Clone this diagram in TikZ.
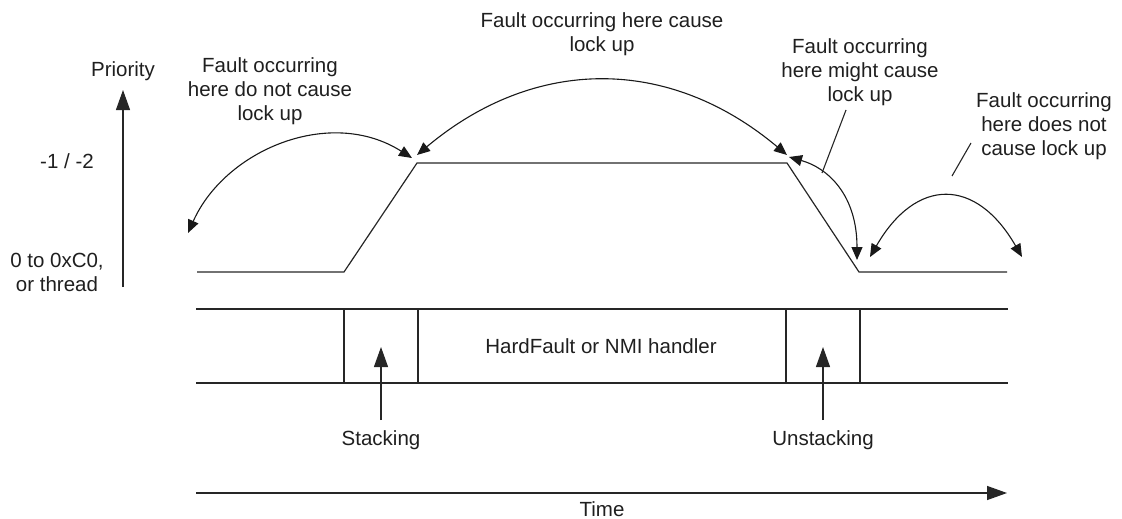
\documentclass[tikz,border=0pt]{standalone}
\usepackage{fontspec}
\setmainfont{Liberation Sans}
\usetikzlibrary{arrows.meta}
\begin{document}
\begin{tikzpicture}[x=1pt,y=-1pt,
  ln/.style={line width=1.2pt,draw=black!85},
  bigarrow/.style={ln,-{Triangle[length=20pt,width=14pt]}},
  arc/.style={line width=1.1pt,draw=black!90,{Triangle[length=13pt,width=11pt]}-{Triangle[length=13pt,width=11pt]}},
  lbl/.style={font=\fontsize{20.5}{24}\selectfont,text=black!88,inner sep=0pt,align=center}]
\useasboundingbox (0,0) rectangle (1122,519);
% priority axis
\coordinate (pbot) at (123,287);
\coordinate (ptop) at (123,90);
\draw[bigarrow] (pbot) -- (ptop);
\node[lbl,anchor=base] (prio) at (123,77) {Priority};
\node[lbl,anchor=base] (hi) at (67,168) {-1 / -2};
\node[lbl] (lo) at (57,272.7) {0 to 0xC0,\\or thread};
% priority waveform
\coordinate (w0) at (197,272);
\coordinate (w1) at (344,272);
\coordinate (w2) at (417,163);
\coordinate (w3) at (787,163);
\coordinate (w4) at (859,272);
\coordinate (w5) at (1007,272);
\draw[ln] (w0) -- (w1) -- (w2) -- (w3) -- (w4) -- (w5);
% band
\coordinate (bl1) at (196,309); \coordinate (br1) at (1008,309);
\coordinate (bl2) at (196,383); \coordinate (br2) at (1008,383);
\draw[ln] (bl1) -- (br1);
\draw[ln] (bl2) -- (br2);
\foreach \x in {344,418,786,860}{\draw[ln] (\x,309) -- (\x,383);}
\node[lbl] (hf) at (601,346) {HardFault or NMI handler};
% stacking arrows
\coordinate (s0) at (381,420); \coordinate (s1) at (381,347);
\coordinate (u0) at (823,420); \coordinate (u1) at (823,347);
\draw[bigarrow] (s0) -- (s1);
\draw[bigarrow] (u0) -- (u1);
\node[lbl,anchor=base] (stk) at (381,445) {Stacking};
\node[lbl,anchor=base] (ustk) at (823,445) {Unstacking};
% time
\coordinate (t0) at (196,493); \coordinate (t1) at (1007,493);
\draw[bigarrow,line width=1.4pt] (t0) -- (t1);
\node[lbl,anchor=base] (time) at (602,516) {Time};
% labels
\node[lbl] (l1) at (270,90.8) {Fault occurring\\here do not cause\\lock up};
\node[lbl] (l2) at (602,34.2) {Fault occurring here cause\\lock up};
\node[lbl] (l3) at (860,72.1) {Fault occurring\\here might cause\\lock up};
\node[lbl] (l4) at (1044,126.5) {Fault occurring\\here does not\\cause lock up};
% arcs
\coordinate (a1s) at (188,233); \coordinate (a1e) at (412,158);
\draw[arc] (a1s) .. controls (225,150) and (330,106) .. (a1e);
\coordinate (a2s) at (417,155); \coordinate (a2e) at (787,155);
\draw[arc] (a2s) .. controls (535,56) and (669,56) .. (a2e);
\coordinate (a3s) at (789,157); \coordinate (a3e) at (857,260);
\draw[arc] (a3s) .. controls (828,168) and (857,195) .. (a3e);
\coordinate (a4s) at (870,257); \coordinate (a4e) at (1022,257);
\draw[arc] (a4s) .. controls (916,177) and (976,177) .. (a4e);
% pointer lines
\coordinate (p3a) at (846,110); \coordinate (p3b) at (822,173);
\draw[ln,line width=1.1pt] (p3a) -- (p3b);
\coordinate (p4a) at (971,143); \coordinate (p4b) at (952,176);
\draw[ln,line width=1.1pt] (p4a) -- (p4b);
\end{tikzpicture}
\end{document}
